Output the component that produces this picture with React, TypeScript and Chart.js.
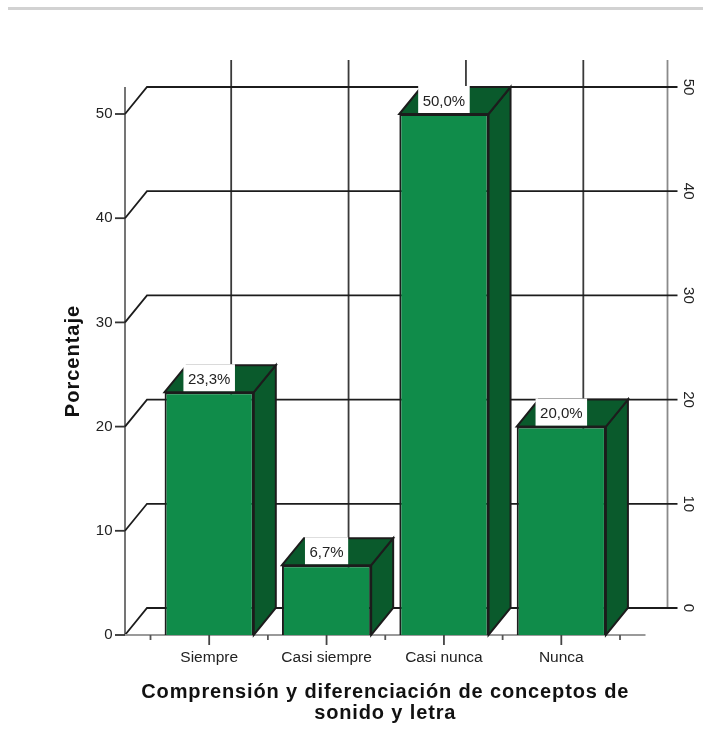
import React, { useEffect, useRef } from "react";
import { Chart, registerables } from "chart.js";

Chart.register(...registerables);

const categories = ["Siempre", "Casi siempre", "Casi nunca", "Nunca"];
const percentages = [23.3, 6.7, 50.0, 20.0];
const xTitleLines = ["Comprensión y diferenciación de conceptos de", "sonido y letra"];
const yTitle = "Porcentaje";
const yTicksStep = 10;
const yMax = 50;

const DEPTH_X = 22;
const DEPTH_Y = 27;
const AXIS_GAP = 25.5;
const SANS = "'Liberation Sans', Arial, sans-serif";
const FRONT = "#108c4a";
const DARK = "#0a5a2c";
const INK = "#1c1c1c";
const TICK_TEXT = "#222222";

const line = (ctx: CanvasRenderingContext2D, pts: number[][], color: string, width = 1.8) => {
  ctx.beginPath();
  pts.forEach(([x, y], i) => (i ? ctx.lineTo(x, y) : ctx.moveTo(x, y)));
  ctx.strokeStyle = color;
  ctx.lineWidth = width;
  ctx.stroke();
};

const poly = (ctx: CanvasRenderingContext2D, pts: number[][], fill: string) => {
  ctx.beginPath();
  pts.forEach(([x, y], i) => (i ? ctx.lineTo(x, y) : ctx.moveTo(x, y)));
  ctx.closePath();
  ctx.fillStyle = fill;
  ctx.fill();
  ctx.strokeStyle = INK;
  ctx.lineWidth = 2;
  ctx.lineJoin = "miter";
  ctx.stroke();
};

const wall3d = {
  id: "wall3d",
  beforeDatasetsDraw(chart: any) {
    const { ctx, scales } = chart;
    const x = scales.x;
    const y = scales.y;
    const axisX = x.left - AXIS_GAP;
    const wallL = axisX + DEPTH_X;
    const wallR = x.right + AXIS_GAP + DEPTH_X;
    const baseY = y.getPixelForValue(0);
    const topBack = y.getPixelForValue(yMax) - DEPTH_Y;
    const wallTop = topBack - DEPTH_Y;
    const wallBottom = baseY - DEPTH_Y;
    ctx.save();

    // axis titles
    ctx.save();
    ctx.font = `bold 20px ${SANS}`;
    ctx.fillStyle = "#111111";
    ctx.textAlign = "center";
    ctx.textBaseline = "middle";
    (ctx as any).letterSpacing = "1px";
    ctx.save();
    ctx.translate(73, (topBack + baseY) / 2);
    ctx.rotate(-Math.PI / 2);
    ctx.fillText(yTitle, 0, 0);
    ctx.restore();
    (ctx as any).letterSpacing = "0.86px";
    xTitleLines.forEach((text, i) => {
      ctx.fillText(text, (x.left + x.right) / 2, baseY + 57 + i * 21);
    });
    ctx.restore();

    // back wall verticals through category centres
    categories.forEach((_, i) => {
      const cx = x.getPixelForValue(i) + DEPTH_X;
      line(ctx, [[cx, wallTop], [cx, wallBottom]], "#3a3a3a");
    });
    line(ctx, [[wallR, wallTop], [wallR, wallBottom]], "#8a8a8a");

    // left axis
    line(ctx, [[axisX, topBack], [axisX, baseY]], "#666666");

    // back wall horizontals, tied to the left axis, with both tick marks
    y.ticks.forEach((t: any) => {
      const py = y.getPixelForValue(t.value);
      line(
        ctx,
        [[axisX, py], [wallL, py - DEPTH_Y], [wallR + 10, py - DEPTH_Y]],
        INK
      );
      line(ctx, [[axisX - 10, py], [axisX, py]], "#333333");
      ctx.save();
      ctx.translate(wallR + 21, py - DEPTH_Y);
      ctx.rotate(Math.PI / 2);
      ctx.font = `15px ${SANS}`;
      ctx.fillStyle = TICK_TEXT;
      ctx.textAlign = "center";
      ctx.textBaseline = "middle";
      ctx.fillText(String(t.value), 0, 0);
      ctx.restore();
    });

    // front base axis with major and minor ticks
    line(ctx, [[axisX, baseY], [x.right + AXIS_GAP, baseY]], "#9a9a9a");
    categories.forEach((_, i) => {
      const cx = x.getPixelForValue(i);
      line(ctx, [[cx, baseY], [cx, baseY + 10]], "#444444");
    });
    const band = x.width / categories.length;
    for (let i = 0; i <= categories.length; i++) {
      const bx = x.left + band * i;
      line(ctx, [[bx, baseY], [bx, baseY + 5]], "#555555");
    }

    // bar side and top faces
    const meta = chart.getDatasetMeta(0);
    meta.data.forEach((bar: any) => {
      const half = bar.width / 2;
      const l = bar.x - half;
      const r = bar.x + half;
      const t = bar.y;
      poly(ctx, [[r, t], [r + DEPTH_X, t - DEPTH_Y], [r + DEPTH_X, baseY - DEPTH_Y], [r, baseY]], DARK);
      poly(ctx, [[l, t], [l + DEPTH_X, t - DEPTH_Y], [r + DEPTH_X, t - DEPTH_Y], [r, t]], DARK);
    });
    ctx.restore();
  },
  afterDatasetsDraw(chart: any) {
    const { ctx } = chart;
    const meta = chart.getDatasetMeta(0);
    ctx.save();
    ctx.font = `15px ${SANS}`;
    ctx.textAlign = "center";
    ctx.textBaseline = "middle";
    meta.data.forEach((bar: any, i: number) => {
      const text = percentages[i].toFixed(1).replace(".", ",") + "%";
      const w = ctx.measureText(text).width + 9;
      ctx.fillStyle = "#ffffff";
      ctx.fillRect(bar.x - w / 2, bar.y - DEPTH_Y - 1, w, DEPTH_Y);
      ctx.fillStyle = TICK_TEXT;
      ctx.fillText(text, bar.x, bar.y - DEPTH_Y / 2 + 1);
    });
    ctx.restore();
  },
};

export default function App() {
  const ref = useRef<HTMLCanvasElement>(null);
  useEffect(() => {
    const chart = new Chart(ref.current!, {
      type: "bar",
      data: {
        labels: categories,
        datasets: [
          {
            data: percentages,
            backgroundColor: FRONT,
            borderColor: INK,
            borderWidth: 2,
            barPercentage: 0.76,
            categoryPercentage: 1,
            clip: false,
          } as any,
        ],
      },
      plugins: [wall3d],
      options: {
        responsive: false,
        animation: false,
        layout: { padding: { top: 114, right: 83, bottom: 26, left: 56 } },
        plugins: { legend: { display: false }, tooltip: { enabled: false } },
        scales: {
          x: {
            grid: { display: false },
            border: { display: false },
            ticks: {
              color: TICK_TEXT,
              font: { family: SANS, size: 15.5 },
              padding: 5,
              maxRotation: 0,
              autoSkip: false,
            },
            afterFit(s: any) {
              s.height = 90;
            },
          },
          y: {
            min: 0,
            max: yMax,
            grid: { display: false },
            border: { display: false },
            ticks: {
              stepSize: yTicksStep,
              color: TICK_TEXT,
              font: { family: SANS, size: 15 },
              padding: 30,
            },
            afterFit(s: any) {
              s.width = 94.5;
            },
          },
        },
      } as any,
    });
    return () => chart.destroy();
  }, []);
  return (
    <div style={{ position: "absolute", left: 0, top: 0, width: 703, height: 751, overflow: "hidden", background: "#ffffff" }}>
      <div style={{ position: "absolute", left: 8, right: 0, top: 7, height: 3, background: "#d2d2d2" }} />
      <canvas ref={ref} width={703} height={751} style={{ position: "absolute", left: 0, top: 0, display: "block" }} />
    </div>
  );
}
